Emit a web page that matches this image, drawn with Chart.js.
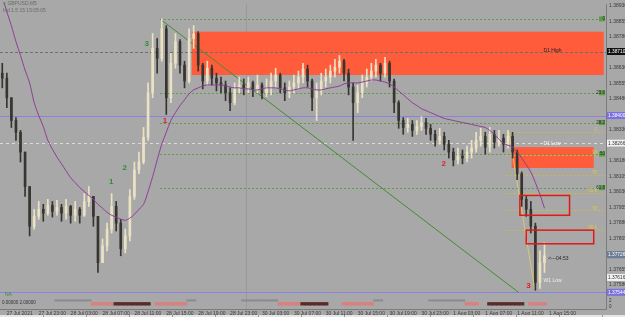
<!DOCTYPE html>
<html>
<head>
<meta charset="utf-8">
<script src="https://cdn.jsdelivr.net/npm/chart.js@4.4.0/dist/chart.umd.min.js"></script>
<style>
  html, body { margin: 0; padding: 0; background: #a8a8a8; overflow: hidden; }
  canvas { display: block; }
</style>
</head>
<body>
<canvas id="chart" width="625" height="317"></canvas>
<script>
// GBPUSD M5 candles
const closes = [1.38581,1.38486,1.38376,1.38319,1.38223,1.38056,1.37864,1.37912,1.37946,1.37927,
  1.37965,1.37936,1.37955,1.37927,1.37960,1.37917,1.37946,1.37917,1.37984,1.38008,
  1.37912,1.37688,1.37769,1.37850,1.37960,1.37879,1.37755,1.37817,1.38008,1.38137,
  1.38175,1.38295,1.38510,1.38725,1.38677,1.38820,1.38486,1.38653,1.38758,1.38644,
  1.38567,1.38773,1.38797,1.38644,1.38567,1.38629,1.38581,1.38558,1.38548,1.38510,
  1.38462,1.38529,1.38548,1.38534,1.38558,1.38529,1.38548,1.38510,1.38534,1.38567,
  1.38596,1.38534,1.38510,1.38538,1.38558,1.38586,1.38625,1.38567,1.38486,1.38519,
  1.38567,1.38586,1.38615,1.38634,1.38663,1.38605,1.38538,1.38462,1.38510,1.38558,
  1.38586,1.38615,1.38644,1.38605,1.38653,1.38567,1.38462,1.38376,1.38342,1.38357,
  1.38328,1.38347,1.38366,1.38338,1.38309,1.38280,1.38299,1.38261,1.38223,1.38185,
  1.38204,1.38194,1.38223,1.38242,1.38280,1.38299,1.38247,1.38309,1.38271,1.38290,
  1.38261,1.38299,1.38223,1.38118,1.37994,1.37946,1.37864,1.37592,1.37688,1.37721];
const highs = [1.38653,1.38605,1.38462,1.38390,1.38328,1.38223,1.38032,1.37946,1.37984,1.37970,
  1.37994,1.37984,1.37989,1.37970,1.37994,1.37965,1.37984,1.37955,1.38022,1.38056,
  1.38008,1.37912,1.37802,1.37879,1.38022,1.37984,1.37898,1.37850,1.38041,1.38175,
  1.38223,1.38342,1.38558,1.38797,1.38773,1.38868,1.38835,1.38701,1.38797,1.38768,
  1.38663,1.38820,1.38835,1.38806,1.38653,1.38663,1.38644,1.38605,1.38586,1.38567,
  1.38534,1.38558,1.38586,1.38577,1.38586,1.38567,1.38596,1.38558,1.38577,1.38605,
  1.38629,1.38605,1.38558,1.38567,1.38596,1.38615,1.38653,1.38644,1.38577,1.38558,
  1.38605,1.38625,1.38644,1.38672,1.38691,1.38672,1.38625,1.38558,1.38548,1.38596,
  1.38625,1.38653,1.38672,1.38653,1.38682,1.38663,1.38577,1.38472,1.38390,1.38386,
  1.38376,1.38376,1.38395,1.38386,1.38357,1.38328,1.38338,1.38319,1.38280,1.38242,
  1.38242,1.38233,1.38252,1.38280,1.38319,1.38338,1.38319,1.38342,1.38328,1.38328,
  1.38309,1.38328,1.38319,1.38233,1.38127,1.38008,1.37984,1.37879,1.37745,1.37783];
const lows = [1.38534,1.38438,1.38342,1.38280,1.38175,1.38008,1.37817,1.37850,1.37898,1.37888,
  1.37917,1.37908,1.37917,1.37888,1.37898,1.37879,1.37888,1.37879,1.37912,1.37960,
  1.37864,1.37640,1.37688,1.37745,1.37831,1.37841,1.37721,1.37735,1.37793,1.37994,
  1.38118,1.38166,1.38280,1.38486,1.38605,1.38663,1.38405,1.38462,1.38629,1.38605,
  1.38534,1.38558,1.38725,1.38615,1.38529,1.38548,1.38548,1.38519,1.38510,1.38472,
  1.38424,1.38452,1.38510,1.38500,1.38510,1.38491,1.38510,1.38481,1.38491,1.38500,
  1.38534,1.38510,1.38472,1.38486,1.38510,1.38529,1.38558,1.38538,1.38424,1.38376,
  1.38500,1.38538,1.38558,1.38586,1.38605,1.38567,1.38500,1.38280,1.38414,1.38486,
  1.38538,1.38567,1.38586,1.38567,1.38586,1.38538,1.38414,1.38338,1.38309,1.38319,
  1.38299,1.38309,1.38328,1.38309,1.38280,1.38252,1.38261,1.38233,1.38194,1.38156,
  1.38166,1.38166,1.38175,1.38194,1.38223,1.38252,1.38213,1.38223,1.38242,1.38252,
  1.38223,1.38242,1.38194,1.38089,1.37960,1.37912,1.37831,1.37554,1.37563,1.37640];
const firstOpen = 1.38605;

// moving average
const maValues = [1.38978,1.38902,1.38835,1.38758,1.38691,1.38620,1.38558,1.38462,1.38400,1.38347,
  1.38280,1.38237,1.38199,1.38166,1.38132,1.38099,1.38075,1.38051,1.38032,1.38013,
  1.37994,1.37970,1.37951,1.37931,1.37917,1.37908,1.37898,1.37893,1.37903,1.37922,
  1.37946,1.37970,1.38032,1.38104,1.38185,1.38261,1.38319,1.38376,1.38414,1.38448,
  1.38476,1.38505,1.38524,1.38534,1.38543,1.38548,1.38548,1.38548,1.38548,1.38543,
  1.38538,1.38534,1.38534,1.38529,1.38529,1.38524,1.38524,1.38529,1.38534,1.38534,
  1.38534,1.38529,1.38524,1.38519,1.38524,1.38529,1.38534,1.38534,1.38529,1.38524,
  1.38524,1.38529,1.38534,1.38538,1.38543,1.38553,1.38558,1.38558,1.38558,1.38562,
  1.38567,1.38572,1.38572,1.38567,1.38562,1.38553,1.38538,1.38519,1.38500,1.38481,
  1.38462,1.38448,1.38433,1.38424,1.38414,1.38405,1.38395,1.38386,1.38381,1.38376,
  1.38371,1.38366,1.38362,1.38357,1.38352,1.38347,1.38342,1.38328,1.38309,1.38285,
  1.38266,1.38256,1.38247,1.38223,1.38194,1.38161,1.38127,1.38075,1.38018,1.37951];

const totalSlots = 133;
const timeLabels = ['27 Jul 2021','27 Jul 23:00','28 Jul 03:00','28 Jul 07:00','28 Jul 11:00','28 Jul 15:00',
  '28 Jul 19:00','28 Jul 23:00','30 Jul 03:00','30 Jul 07:00','30 Jul 11:00','30 Jul 15:00',
  '30 Jul 19:00','30 Jul 23:00','1 Aug 03:00','1 Aug 07:00','1 Aug 11:00','1 Aug 15:00'];
const yTicks = [1.37580,1.37655,1.37730,1.37805,1.37880,1.37955,1.38030,1.38105,1.38180,1.38255,
  1.38330,1.38405,1.38480,1.38555,1.38630,1.38705,1.38780,1.38855,1.38930];

// drawn objects: [fromSlot, toSlot, top, bottom]
const filledZones = [[41.6, 132, 1.38806, 1.38596], [111.8, 129.8, 1.38247, 1.38146]];
const outlineZones = [[113.6, 124.5, 1.38013, 1.37917], [115, 129.8, 1.37845, 1.37779]];
const greenFib = [1.38868, 1.38510, 1.38366, 1.38213, 1.38051];
const greenFibText = ['0', '23.6', '38.2', '50', '61.8'];
const oliveFib = [1.38319, 1.38209, 1.38113, 1.38027, 1.37941, 1.37845];
const oliveFibText = ['0', '38', '76', '61.8', '78', '88.6'];
const trendLine = [[34.6, 1.38868], [113.3, 1.37544]];
const fibLine = [[111.2, 1.38319], [116.9, 1.37554]];
const waveLabels = [['3', 31.7, 1.38749, '#2f8f2f'], ['2', 26.9, 1.38146, '#2f8f2f'], ['1', 23.9, 1.38080, '#2f8f2f'],
  ['1', 35.7, 1.38376, '#e02020'], ['2', 96.9, 1.38166, '#e02020'], ['3', 115.5, 1.37578, '#e02020']];
const priceTags = [[1.38710, '#111', '#fff'], [1.38400, '#7b70e0', '#fff'], [1.38266, '#f2f2f2', '#333'],
  [1.37726, '#6c7c96', '#fff'], [1.37616, '#f2f2f2', '#333'], [1.37544, '#7b70e0', '#fff']];
// session indicator: [fromSlot, toSlot, kind]
const sessionSegments = [[12,20,0],[20,25,1],[25,32,2],[34,40,1],[41,42,0],[53,61,0],[61,66,1],[66,71,2],
  [75,81,1],[82,83,0],[94,102,0],[102,104,1],[107,114,2],[116,119,1]];

const slots = Array.from({ length: totalSlots }, (_, i) => String(i));
const opens = closes.map((c, i) => i === 0 ? firstOpen : closes[i - 1]);
const upCol = '#ebe2c4', downCol = '#36352f';
const candleCols = closes.map((c, i) => c >= opens[i] ? upCol : downCol);

const sessData = new Array(totalSlots).fill(null);
const sessCols = new Array(totalSlots).fill('transparent');
const sessStyle = [[1.45, 1.7, '#8c8c8c'], [0.7, 1.2, '#d98080'], [0.7, 1.2, '#5a2a2a']];
sessionSegments.forEach(([a, b, k]) => {
  for (let i = a; i <= b; i++) { sessData[i] = [sessStyle[k][0], sessStyle[k][1]]; sessCols[i] = sessStyle[k][2]; }
});

const FONT = 'Liberation Sans';

const drawPlugin = {
  id: 'mt4',
  beforeDraw(chart) {
    const ctx = chart.ctx;
    ctx.save();
    ctx.fillStyle = '#a8a8a8';
    ctx.fillRect(0, 0, chart.width, chart.height);
    ctx.restore();
  },
  beforeDatasetsDraw(chart) {
    const { ctx, chartArea: a, scales: { x, y } } = chart;
    const px = v => x.getPixelForValue(v), py = v => y.getPixelForValue(v);
    ctx.save();
    ctx.beginPath();
    ctx.rect(a.left, y.top, a.right - a.left, y.bottom - y.top);
    ctx.clip();
    ctx.fillStyle = '#ff5c3c';
    filledZones.forEach(z => ctx.fillRect(px(z[0]), py(z[2]), px(z[1]) - px(z[0]), py(z[3]) - py(z[2])));

    const hline = (p, x0, x1, col, dash, w) => {
      ctx.beginPath();
      ctx.setLineDash(dash);
      ctx.strokeStyle = col;
      ctx.lineWidth = w || 1;
      const yy = Math.round(py(p)) + 0.5;
      ctx.moveTo(x0, yy); ctx.lineTo(x1, yy); ctx.stroke();
    };
    hline(1.38710, a.left, a.right, '#6e6e6e', [3, 2]);
    hline(1.38400, a.left, a.right, '#8a80e6', []);
    hline(1.38266, a.left, a.right, '#dcdcdc', [3, 3]);
    hline(1.37544, a.left, a.right, '#8a80e6', [], 1.2);
    greenFib.forEach(p => hline(p, px(34.6), a.right - 2, '#5f9c4a', [2, 2]));
    oliveFib.forEach(p => hline(p, px(110.5), a.right - 2, '#cbbb4c', [2, 2]));

    ctx.setLineDash([]);
    ctx.lineWidth = 1;
    ctx.strokeStyle = '#3f8f30';
    ctx.beginPath();
    ctx.moveTo(px(trendLine[0][0]), py(trendLine[0][1]));
    ctx.lineTo(px(trendLine[1][0]), py(trendLine[1][1]));
    ctx.stroke();
    ctx.strokeStyle = '#d8c870';
    ctx.beginPath();
    ctx.moveTo(px(fibLine[0][0]), py(fibLine[0][1]));
    ctx.lineTo(px(fibLine[1][0]), py(fibLine[1][1]));
    ctx.stroke();
    ctx.restore();
  },
  afterDatasetsDraw(chart) {
    const { ctx, chartArea: a, scales: { x, y } } = chart;
    const px = v => x.getPixelForValue(v), py = v => y.getPixelForValue(v);
    ctx.save();
    ctx.strokeStyle = '#e01818';
    ctx.lineWidth = 1.5;
    outlineZones.forEach(z => ctx.strokeRect(px(z[0]), py(z[2]), px(z[1]) - px(z[0]), py(z[3]) - py(z[2])));

    // fib level tags
    ctx.font = '4.5px "' + FONT + '"';
    ctx.textAlign = 'right';
    ctx.textBaseline = 'middle';
    greenFib.forEach((p, i) => {
      ctx.fillStyle = '#5f9c4a';
      ctx.fillRect(a.right - 7, py(p) - 2.5, 6, 5);
      ctx.fillStyle = '#203018';
      ctx.fillText(greenFibText[i], a.right - 1, py(p));
    });
    oliveFib.forEach((p, i) => {
      ctx.fillStyle = '#d8c84a';
      ctx.fillText(oliveFibText[i], a.right - 9, py(p) - 2);
    });

    // zone texts
    ctx.textAlign = 'left';
    ctx.font = '5px "' + FONT + '"';
    ctx.fillStyle = '#222';
    ctx.fillText('D1 High', px(118.8), py(1.38715));
    ctx.fillStyle = '#f4f4f4';
    ctx.fillText('D1 Low', px(118.8), py(1.38262));
    ctx.fillStyle = '#2a2a2a';
    ctx.fillText('<---04:53', px(119.8), py(1.37705));
    ctx.fillStyle = '#eeeeee';
    ctx.fillText('W1 Low', px(118.8), py(1.37601));

    // wave counts
    ctx.font = 'bold 8px "' + FONT + '"';
    ctx.textAlign = 'center';
    waveLabels.forEach(([t, i, p, c]) => { ctx.fillStyle = c; ctx.fillText(t, px(i), py(p)); });
    ctx.restore();
  },
  afterDraw(chart) {
    const { ctx, chartArea: a, scales: { y } } = chart;
    ctx.save();
    // price tags on the axis
    ctx.font = '4.8px "' + FONT + '"';
    ctx.textBaseline = 'middle';
    ctx.textAlign = 'left';
    priceTags.forEach(([p, bg, fg]) => {
      const yy = y.getPixelForValue(p);
      ctx.fillStyle = bg;
      ctx.fillRect(a.right + 1, yy - 3.5, 18, 7);
      ctx.fillStyle = fg;
      ctx.fillText(p.toFixed(5), a.right + 2, yy);
    });
    // header text
    ctx.fillStyle = '#6a6a6a';
    ctx.font = '5px "' + FONT + '"';
    ctx.fillText('\u25BE GBPUSD,M5', 3, 4);
    ctx.fillText('bid 1.5 15 15:05:05', 3, 11);
    ctx.fillStyle = '#3c8c30';
    ctx.fillText('NA', 5, 295);
    ctx.fillStyle = '#333';
    ctx.font = '4.5px "' + FONT + '"';
    ctx.fillText('0.00000 2.00000', 2, 303);
    ctx.fillText('2', a.right + 3, 301);
    ctx.fillText('0', a.right + 3, 307);
    // bottom tab strip
    ctx.fillStyle = '#e6e6e6';
    ctx.fillRect(0, 315, chart.width, 2);
    ctx.fillStyle = '#9a9a9a';
    for (let xx = 43; xx < chart.width; xx += 43) ctx.fillRect(xx, 315, 1, 2);
    ctx.restore();
  }
};

new Chart(document.getElementById('chart'), {
  type: 'bar',
  data: {
    labels: slots,
    datasets: [
      {
        type: 'line',
        label: 'MA',
        data: maValues,
        borderColor: '#8e3f96',
        borderWidth: 1,
        pointRadius: 0,
        tension: 0.3,
        yAxisID: 'y',
        order: 0
      },
      {
        label: 'Body',
        data: closes.map((c, i) => [opens[i], c]),
        backgroundColor: candleCols,
        barThickness: 2,
        minBarLength: 1,
        grouped: false,
        yAxisID: 'y',
        order: 1
      },
      {
        label: 'Wick',
        data: closes.map((c, i) => [Math.min(lows[i], opens[i], c), Math.max(highs[i], opens[i], c)]),
        backgroundColor: candleCols,
        barThickness: 1,
        grouped: false,
        yAxisID: 'y',
        order: 2
      },
      {
        label: 'Session',
        data: sessData,
        backgroundColor: sessCols,
        barPercentage: 1,
        categoryPercentage: 1,
        grouped: false,
        yAxisID: 'y2',
        order: 3
      }
    ]
  },
  options: {
    responsive: false,
    animation: false,
    layout: { padding: 0 },
    plugins: { legend: { display: false }, tooltip: { enabled: false } },
    scales: {
      x: {
        type: 'category',
        offset: true,
        border: { color: '#7c7c7c' },
        grid: {
          drawTicks: true,
          tickLength: 2,
          color: c => (c.index % 42 === 8) ? 'rgba(125,125,125,0.35)' : 'transparent'
        },
        ticks: {
          autoSkip: false,
          maxRotation: 0,
          align: 'start',
          padding: 0,
          color: '#3a3a3a',
          font: { family: FONT, size: 5 },
          callback: (v, i) => (i % 7 === 1 && (i - 1) / 7 < timeLabels.length) ? timeLabels[(i - 1) / 7] : null
        },
        afterFit: s => { s.height = 8; }
      },
      y: {
        position: 'right',
        stack: 'win',
        stackWeight: 27,
        min: 1.37516,
        max: 1.38940,
        border: { color: '#7c7c7c' },
        grid: { display: false, tickLength: 2 },
        afterBuildTicks: s => { s.ticks = yTicks.map(v => ({ value: v })); },
        ticks: {
          autoSkip: false,
          padding: 1,
          color: '#3a3a3a',
          font: { family: FONT, size: 5 },
          callback: v => v.toFixed(5)
        },
        afterFit: s => { s.width = 19; }
      },
      y2: {
        position: 'right',
        stack: 'win',
        stackWeight: 1,
        min: 0,
        max: 2,
        border: { color: '#7c7c7c' },
        grid: { display: false, tickLength: 2 },
        ticks: { display: false },
        afterFit: s => { s.width = 19; }
      }
    }
  },
  plugins: [drawPlugin]
});
</script>
</body>
</html>
